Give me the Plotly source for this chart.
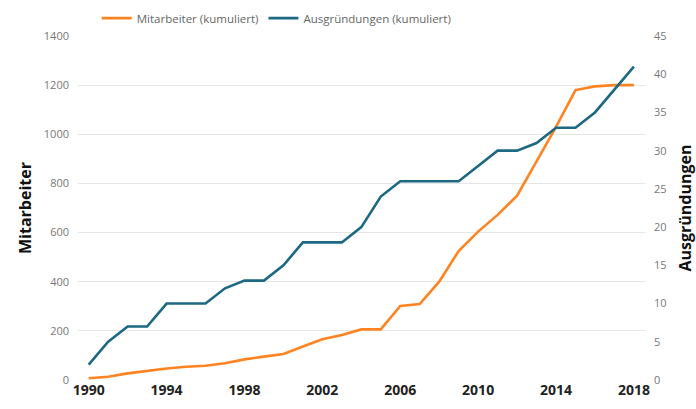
import plotly.graph_objects as go

# Cumulative figures per year
years = list(range(1990, 2019))
mitarbeiter = [7, 13, 27, 38, 47, 54, 58, 68, 84, 95, 106, 136, 166, 183, 206,
               206, 301, 309, 400, 525, 604, 672, 750, 890, 1030, 1180, 1195, 1200, 1200]
ausgruendungen = [2, 5, 7, 7, 10, 10, 10, 12, 13, 13, 15, 18, 18, 18, 20,
                  24, 26, 26, 26, 26, 28, 30, 30, 31, 33, 33, 35, 38, 41]

x_ticks = [1990, 1994, 1998, 2002, 2006, 2010, 2014, 2018]
left_ticks = [0, 200, 400, 600, 800, 1000, 1200, 1400]
right_ticks = [0, 5, 10, 15, 20, 25, 30, 35, 40, 45]

ORANGE = "#FF8320"
BLUE = "#1D6882"
FONT = "Open Sans, Noto Sans, sans-serif"

fig = go.Figure()
fig.add_trace(go.Scatter(
    x=years, y=mitarbeiter, mode="lines", name="Mitarbeiter (kumuliert)",
    line=dict(color=ORANGE, width=2.6), yaxis="y"))
fig.add_trace(go.Scatter(
    x=years, y=ausgruendungen, mode="lines", name="Ausgründungen (kumuliert)",
    line=dict(color=BLUE, width=2.6), yaxis="y2"))

fig.update_layout(
    width=696, height=409,
    margin=dict(l=78, r=51, t=36, b=29, autoexpand=False),
    paper_bgcolor="white", plot_bgcolor="white",
    font=dict(family=FONT, color="#666666", size=11),
    showlegend=True,
    legend=dict(orientation="h", x=0.033, xanchor="left", y=1.052, yanchor="middle",
                font=dict(size=11.5, color="#666666"), bgcolor="rgba(0,0,0,0)",
                itemwidth=30, tracegroupgap=0),
    xaxis=dict(range=[1989.45, 2018.57], tickvals=x_ticks, showgrid=False,
               zeroline=False, showline=False, ticks="",
               tickfont=dict(size=14, color="#222222", family=FONT, weight="bold")),
    yaxis=dict(range=[0, 1400], tickvals=left_ticks, showgrid=True,
               gridcolor="#E6E6E6", gridwidth=1, zeroline=False, showline=False,
               ticks="", ticklabelstandoff=8,
               tickfont=dict(size=11, color="#777777"),
               title=dict(text="Mitarbeiter", standoff=8,
                          font=dict(size=16, color="#111111", family=FONT, weight="bold"))),
    yaxis2=dict(range=[0, 45], tickvals=right_ticks, overlaying="y", side="right",
                showgrid=False, zeroline=False, showline=False, ticks="",
                ticklabelstandoff=8,
                tickfont=dict(size=11, color="#777777"),
                title=dict(text="Ausgründungen", standoff=14,
                           font=dict(size=16, color="#111111", family=FONT, weight="bold"))),
)

fig.write_html("out.html")
